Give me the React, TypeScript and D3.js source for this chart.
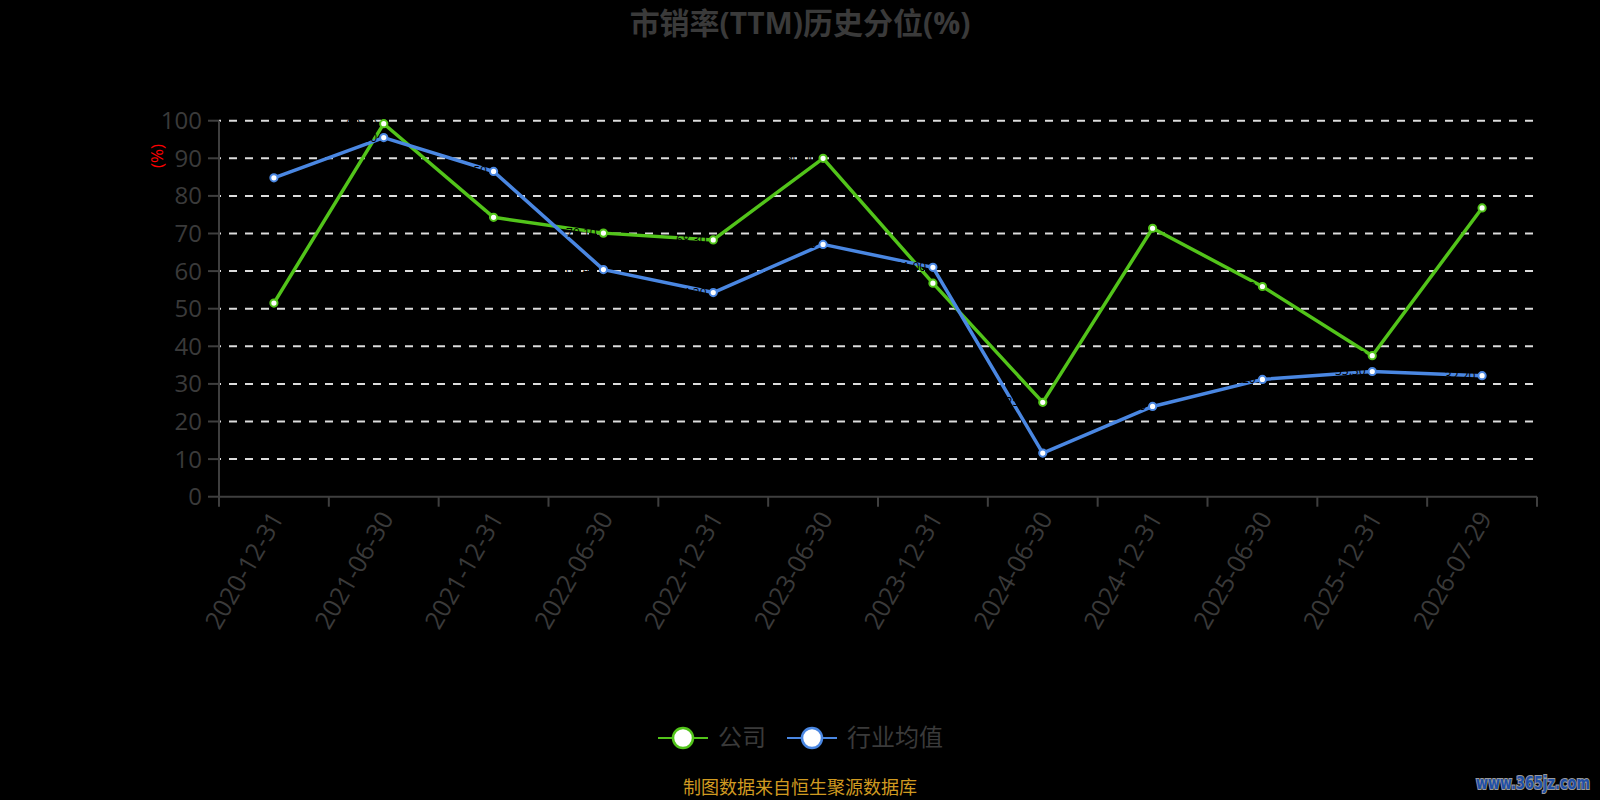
import React from "react";
import * as d3 from "d3";

const categories = [
  "2020-12-31", "2021-06-30", "2021-12-31", "2022-06-30", "2022-12-31", "2023-06-30",
  "2023-12-31", "2024-06-30", "2024-12-31", "2025-06-30", "2025-12-31", "2026-07-29",
];
const companyValues = [51.5, 99.2, 74.3, 70.1, 68.3, 90.0, 56.8, 25.1, 71.4, 55.9, 37.5, 76.8];
const industryValues = [84.8, 95.5, 86.5, 60.4, 54.3, 67.1, 61.0, 11.6, 24.0, 31.2, 33.3, 32.2];
const yTicks = [0, 10, 20, 30, 40, 50, 60, 70, 80, 90, 100];
const seriesNames = ["公司", "行业均值"];
const titleText = "市销率(TTM)历史分位(%)";
const unitText = "(%)";
const footerText = "制图数据来自恒生聚源数据库";
const watermarkText = "www.365jz.com";

const W = 1600;
const H = 800;
const GREEN = "#52c41a";
const BLUE = "#4a87e2";
const AXIS = "#3f3f3f";
const TEXT = "#3a3a3a";
const FONT = "'Open Sans', 'Noto Sans CJK SC', sans-serif";

export default function App() {
  const left = 219;
  const right = 1537;
  const top = 120.7;
  const bottom = 496.7;

  const x = d3.scaleBand<string>().domain(categories).range([left, right]).padding(0);
  const y = d3.scaleLinear().domain([0, 100]).range([bottom, top]);
  const cx = (c: string) => (x(c) as number) + x.bandwidth() / 2;

  const line = d3
    .line<number>()
    .x((_, i) => cx(categories[i]))
    .y((v) => y(v));

  const series = [
    { name: seriesNames[0], values: companyValues, color: GREEN },
    { name: seriesNames[1], values: industryValues, color: BLUE },
  ];

  const boundaries = [...categories.map((c) => x(c) as number), right];

  return (
    <div style={{ position: "fixed", left: 0, top: 0, width: W, height: H }}>
      <svg width={W} height={H} style={{ display: "block", background: "#000" }} fontFamily={FONT}>
        <rect x={0} y={0} width={W} height={H} fill="#000" />
        {/* title */}
        <text x={800} y={34} textAnchor="middle" fontSize={30} fontWeight="bold" fill={TEXT}>
          {titleText}
        </text>

        {/* grid lines */}
        {yTicks.filter((t) => t > 0).map((t) => (
          <line
            key={"g" + t}
            x1={left}
            x2={right}
            y1={y(t)}
            y2={y(t)}
            stroke="#dcdcdc"
            strokeWidth={2}
            strokeDasharray="8,8"
            strokeDashoffset={-10}
          />
        ))}

        {/* y axis */}
        <line x1={left} x2={left} y1={top} y2={bottom} stroke={AXIS} strokeWidth={2} />
        {yTicks.map((t) => (
          <g key={"y" + t}>
            <line x1={left - 11} x2={left} y1={y(t)} y2={y(t)} stroke={AXIS} strokeWidth={2} />
            <text x={left - 17} y={y(t)} dy="0.35em" textAnchor="end" fontSize={24} fill={TEXT}>
              {t}
            </text>
          </g>
        ))}
        <text
          transform={`translate(157,156) rotate(-90)`}
          textAnchor="middle"
          dy="0.35em"
          fontSize={17}
          fill="#ff0000"
        >
          {unitText}
        </text>

        {/* x axis */}
        <line x1={left} x2={right} y1={bottom} y2={bottom} stroke={AXIS} strokeWidth={2} />
        {boundaries.map((b, i) => (
          <line key={"xt" + i} x1={b} x2={b} y1={bottom} y2={bottom + 10} stroke={AXIS} strokeWidth={2} />
        ))}
        {categories.map((c) => (
          <text
            key={"xl" + c}
            transform={`translate(${cx(c) + 3},${bottom + 17}) rotate(-60)`}
            textAnchor="end"
            dy="0.35em"
            fontSize={25}
            fill={TEXT}
          >
            {c}
          </text>
        ))}

        {/* lines */}
        {series.map((s) => (
          <path
            key={"l" + s.name}
            d={line(s.values) as string}
            fill="none"
            stroke={s.color}
            strokeWidth={3.5}
            strokeLinejoin="round"
          />
        ))}
        {/* data labels (black, as in the reference) */}
        {series.map((s) =>
          s.values.map((v, i) => (
            <text
              key={"dl" + s.name + i}
              x={cx(categories[i]) - 22}
              y={y(v) + 4}
              textAnchor="middle"
              fontSize={12}
              fill="#000"
            >
              {v.toFixed(2)}
            </text>
          ))
        )}
        {series.map((s) =>
          s.values.map((v, i) => (
            <circle
              key={"p" + s.name + i}
              cx={cx(categories[i])}
              cy={y(v)}
              r={3.6}
              fill="#fff"
              stroke={s.color}
              strokeWidth={2}
            />
          ))
        )}

        {/* legend */}
        {[
          { name: seriesNames[0], color: GREEN, x0: 658, tx: 718 },
          { name: seriesNames[1], color: BLUE, x0: 787, tx: 847 },
        ].map((l) => (
          <g key={"lg" + l.name}>
            <line x1={l.x0} x2={l.x0 + 50} y1={738} y2={738} stroke={l.color} strokeWidth={2} />
            <circle cx={l.x0 + 25} cy={738} r={10} fill="#fff" stroke={l.color} strokeWidth={2.5} />
            <text x={l.tx} y={738} dy="0.35em" fontSize={24} fill={TEXT}>
              {l.name}
            </text>
          </g>
        ))}

        {/* footer */}
        <text x={800} y={788} dy="0.35em" textAnchor="middle" fontSize={18} fill="#d09a20">
          {footerText}
        </text>

        {/* watermark */}
        <text
          transform="translate(1476,789) scale(1,1.35)"
          fontSize={13}
          fontWeight="bold"
          fontFamily="'DejaVu Sans', sans-serif"
          fill="#1f4fa6"
          stroke="#9a9a9a"
          strokeWidth={1.6}
          paintOrder="stroke"
          textLength={114}
          lengthAdjust="spacingAndGlyphs"
        >
          {watermarkText}
        </text>
      </svg>
    </div>
  );
}
